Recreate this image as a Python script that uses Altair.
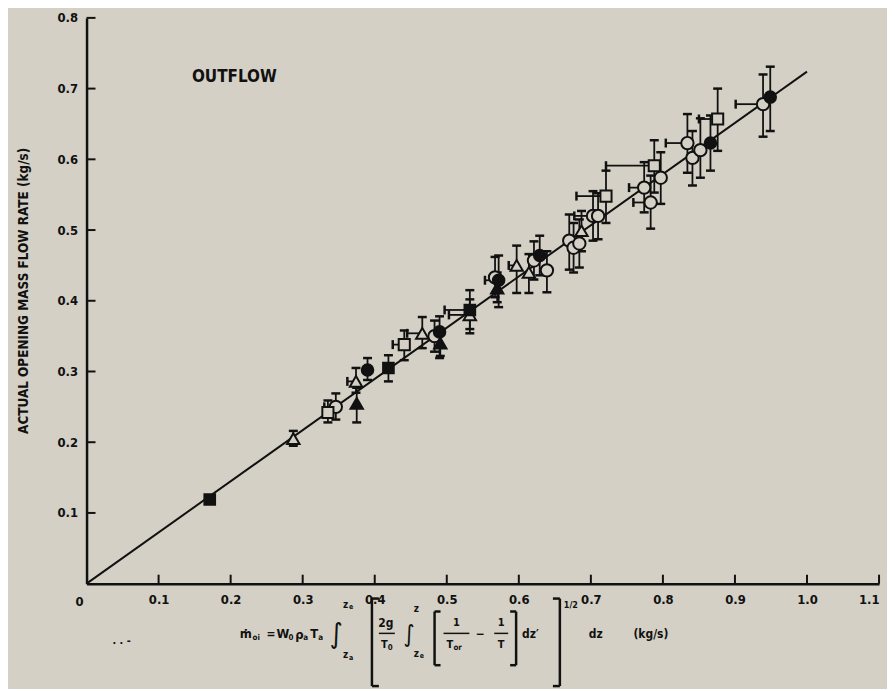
import altair as alt
import pandas as pd

# ---------------- data ----------------
kind = ["FS", "OT", "OS", "OC", "FT", "OT", "FC", "FS", "OS", "OT",
        "OC", "FC", "FT", "FS", "OT", "OC", "FC", "FT", "OT", "OT",
        "OC", "FC", "OC", "OC", "OC", "OC", "OT", "OC", "OC", "OS",
        "OC", "OC", "OC", "OS", "OC", "OC", "OC", "FC", "OS", "OC", "FC"]
x_val = [0.171, 0.287, 0.335, 0.346, 0.375, 0.374, 0.390, 0.419, 0.441, 0.466,
         0.483, 0.490, 0.491, 0.532, 0.532, 0.567, 0.572, 0.570, 0.597, 0.614,
         0.621, 0.629, 0.639, 0.670, 0.676, 0.684, 0.687, 0.703, 0.710, 0.721,
         0.774, 0.783, 0.797, 0.788, 0.834, 0.841, 0.852, 0.866, 0.876, 0.939, 0.949]
y_val = [0.119, 0.205, 0.242, 0.250, 0.255, 0.286, 0.302, 0.305, 0.338, 0.354,
         0.350, 0.356, 0.340, 0.387, 0.380, 0.433, 0.429, 0.418, 0.450, 0.440,
         0.457, 0.464, 0.443, 0.485, 0.475, 0.481, 0.499, 0.520, 0.520, 0.548,
         0.560, 0.539, 0.574, 0.591, 0.623, 0.602, 0.613, 0.623, 0.657, 0.678, 0.688]
y_low = [None, 0.195, 0.228, 0.232, 0.228, 0.270, 0.288, 0.286, 0.316, 0.333,
         0.328, 0.319, 0.322, 0.354, 0.360, 0.405, 0.391, 0.398, 0.411, 0.411,
         0.430, 0.436, 0.412, 0.444, 0.440, 0.447, 0.470, 0.485, 0.487, 0.510,
         0.525, 0.502, 0.537, 0.553, 0.581, 0.563, 0.574, 0.584, 0.612, 0.632, 0.640]
y_high = [None, 0.216, 0.259, 0.269, 0.277, 0.305, 0.319, 0.323, 0.358, 0.377,
          0.372, 0.378, 0.358, 0.415, 0.402, 0.462, 0.464, 0.440, 0.478, 0.466,
          0.484, 0.492, 0.470, 0.522, 0.510, 0.515, 0.527, 0.555, 0.552, 0.584,
          0.596, 0.577, 0.610, 0.627, 0.664, 0.640, 0.658, 0.662, 0.700, 0.720, 0.731]
x_low = [None, None, None, 0.330, None, 0.362, None, None, 0.425, 0.445,
         None, None, None, 0.497, 0.503, None, 0.553, None, 0.586, None,
         None, None, None, None, None, None, None, 0.677, None, 0.680,
         0.753, 0.759, None, 0.721, 0.804, None, None, None, 0.850, 0.901, None]

line_x = [0.0, 1.0]
line_y = [0.0, 0.724]

x_ticks = [0.1, 0.2, 0.3, 0.4, 0.5, 0.6, 0.7, 0.8, 0.9, 1.0, 1.1]
y_ticks = [0.1, 0.2, 0.3, 0.4, 0.5, 0.6, 0.7, 0.8]

df = pd.DataFrame({"kind": kind, "x": x_val, "y": y_val,
                   "ylo": y_low, "yhi": y_high, "xlo": x_low})
line_df = pd.DataFrame({"x": line_x, "y": line_y})
xt_df = pd.DataFrame({"x": x_ticks})
yt_df = pd.DataFrame({"y": y_ticks})
one = pd.DataFrame({"a": [0]})

# ---------------- style ----------------
BG = "#d4d0c5"
INK = "#111111"
FONT = "DejaVu Sans Condensed, Liberation Sans Narrow, sans-serif"
W, H = 797, 569
OX, OY = 87, 16  # plot origin on the page

xs = alt.Scale(domain=[0, 1.1], nice=False, zero=False)
ys = alt.Scale(domain=[0, 0.8], nice=False, zero=False)

X_AX = alt.Axis(values=x_ticks, labelExpr="format(datum.value, '.1f')", ticks=False,
                grid=False, domainColor=INK, domainWidth=2.5, labelFont=FONT,
                labelFontSize=13, labelFontWeight="bold", labelColor=INK,
                labelPadding=10, title=None)
Y_AX = alt.Axis(values=y_ticks, labelExpr="format(datum.value, '.1f')", ticks=False,
                grid=False, domainColor=INK, domainWidth=2.5, labelFont=FONT,
                labelFontSize=13, labelFontWeight="bold", labelColor=INK,
                labelPadding=9, title="ACTUAL OPENING MASS FLOW RATE (kg/s)",
                titleFont=FONT, titleFontSize=13.5, titleFontWeight="bold",
                titleColor=INK, titleAngle=270, titleX=-63, titleY=274,
                titleAlign="center", titleBaseline="middle")


def X(field, **kw):
    return alt.X(field, type="quantitative", scale=xs, axis=X_AX, **kw)


def Y(field, **kw):
    return alt.Y(field, type="quantitative", scale=ys, axis=Y_AX, **kw)


line = alt.Chart(line_df).mark_line(color=INK, strokeWidth=2).encode(x=X("x"), y=Y("y"))

ytick = alt.Chart(yt_df).mark_rule(color=INK, strokeWidth=2).encode(
    y=Y("y"), x=alt.value(0), x2=alt.value(9))
xtick = alt.Chart(xt_df).mark_rule(color=INK, strokeWidth=2).encode(
    x=X("x"), y=alt.value(H), y2=alt.value(H - 9))

base = alt.Chart(df)
vbar = base.transform_filter("isValid(datum.ylo)").mark_rule(color=INK, strokeWidth=1.8).encode(
    x=X("x"), y=Y("ylo"), y2="yhi:Q")
cap_lo = base.transform_filter("isValid(datum.ylo)").mark_tick(
    orient="horizontal", color=INK, size=9, thickness=2.5, opacity=1).encode(
    x=X("x"), y=Y("ylo"))
cap_hi = base.transform_filter("isValid(datum.yhi)").mark_tick(
    orient="horizontal", color=INK, size=9, thickness=2.5, opacity=1).encode(
    x=X("x"), y=Y("yhi"))
hbar = base.transform_filter("isValid(datum.xlo)").mark_rule(color=INK, strokeWidth=1.8).encode(
    x=X("xlo"), x2="x:Q", y=Y("y"))
cap_l = base.transform_filter("isValid(datum.xlo)").mark_tick(
    orient="vertical", color=INK, size=9, thickness=2.5, opacity=1).encode(
    x=X("xlo"), y=Y("y"))


def pts(k, shape, fill, size):
    return base.transform_filter(alt.datum.kind == k).mark_point(
        shape=shape, filled=True, fill=fill, stroke=INK, strokeWidth=2,
        size=size, opacity=1, fillOpacity=1).encode(x=X("x"), y=Y("y"))


markers = [
    pts("OC", "circle", BG, 155), pts("FC", "circle", INK, 135),
    pts("OT", "triangle-up", BG, 155), pts("FT", "triangle-up", INK, 155),
    pts("OS", "square", BG, 125), pts("FS", "square", INK, 115),
]


def txt(s, x, y, size, weight="bold", align="left"):
    return alt.Chart(one).mark_text(
        text=s, font=FONT, fontSize=size, fontWeight=weight, color=INK,
        align=align, baseline="middle").encode(x=alt.value(x - OX), y=alt.value(y - OY))


def seg(x1, y1, x2, y2, w=2):
    return alt.Chart(one).mark_rule(color=INK, strokeWidth=w).encode(
        x=alt.value(x1 - OX), y=alt.value(y1 - OY), x2=alt.value(x2 - OX), y2=alt.value(y2 - OY))


notes = [
    txt("OUTFLOW", 193, 75, 17),
    txt("0", 80, 603, 13, align="center"),
    txt(". . -", 113, 643, 11),
    # formula under the x axis
    txt("ṁ", 241, 636, 13), txt("oi", 254, 640, 8),
    txt("=", 268, 636, 12),
    txt("W", 278, 636, 13), txt("0", 290, 640, 8),
    txt("ρ", 297, 637, 13), txt("a", 305, 640, 8),
    txt("T", 312, 636, 13), txt("a", 320, 640, 8),
    txt("∫", 338, 637, 28, weight="normal", align="center"),
    txt("z", 345, 606, 10), txt("e", 351, 608, 7),
    txt("z", 345, 657, 10), txt("a", 351, 660, 7),
    seg(374, 600, 374, 688, 2.5), seg(374, 600, 381, 600, 2.5), seg(374, 688, 381, 688, 2.5),
    txt("2g", 388, 625, 12, align="center"), seg(381, 635, 397, 635, 1.5),
    txt("T", 383, 647, 11), txt("0", 390, 650, 8),
    txt("∫", 411, 637, 24, weight="normal", align="center"),
    txt("z", 416, 610, 10), txt("z", 416, 656, 10), txt("e", 422, 658, 7),
    seg(437, 613, 437, 667, 2.5), seg(437, 613, 443, 613, 2.5), seg(437, 667, 443, 667, 2.5),
    txt("1", 459, 625, 11, align="center"), seg(446, 635, 472, 635, 1.5),
    txt("T", 449, 647, 11), txt("or", 456, 650, 8),
    txt("−", 483, 636, 12, align="center"),
    txt("1", 504, 625, 11, align="center"), seg(497, 635, 511, 635, 1.5),
    txt("T", 504, 647, 11, align="center"),
    seg(519, 613, 519, 667, 2.5), seg(513, 613, 519, 613, 2.5), seg(513, 667, 519, 667, 2.5),
    txt("dz′", 525, 636, 12),
    seg(563, 600, 563, 688, 2.5), seg(556, 600, 563, 600, 2.5), seg(556, 688, 563, 688, 2.5),
    txt("1/2", 567, 606, 9),
    txt("dz", 592, 636, 12),
    txt("(kg/s)", 637, 636, 12),
]

chart = alt.layer(
    line, ytick, xtick, vbar, hbar, cap_lo, cap_hi, cap_l, *markers, *notes
).properties(
    width=W, height=H,
    autosize=alt.AutoSizeParams(type="none"),
    padding={"left": OX - 8, "top": OY - 8, "right": 8, "bottom": 104},
    background=BG,
).configure_view(stroke=None)

chart.save("out.html", embed_options={"renderer": "svg", "actions": False})
